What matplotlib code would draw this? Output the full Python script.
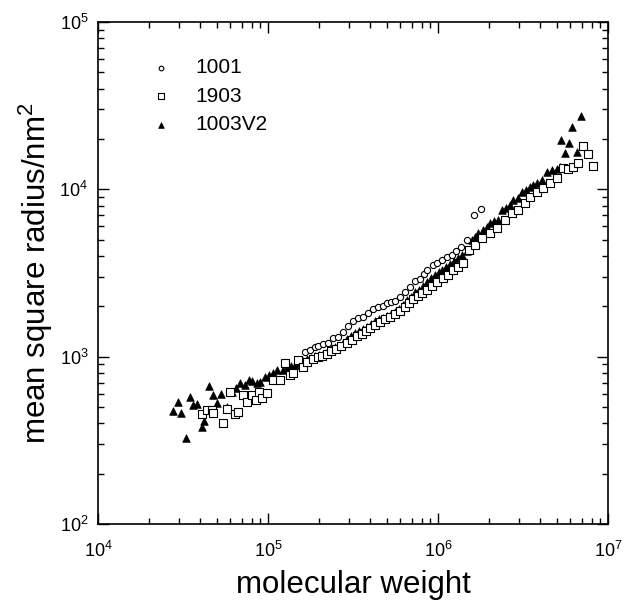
import numpy as np
import matplotlib
matplotlib.use("Agg")
import matplotlib.pyplot as plt
from matplotlib.ticker import LogLocator, FixedLocator, FixedFormatter, NullFormatter

plt.rcParams['font.family'] = ['Liberation Sans', 'DejaVu Sans']
plt.rcParams['mathtext.fontset'] = 'custom'
plt.rcParams['mathtext.rm'] = 'Liberation Sans'
plt.rcParams['mathtext.it'] = 'Liberation Sans:italic'
plt.rcParams['mathtext.default'] = 'regular'

# ---- data (log10 of molecular weight, log10 of mean square radius / nm^2) ----
logM_1001 = [5.218, 5.247, 5.276, 5.294, 5.324, 5.353, 5.382, 5.412, 5.441, 5.471,
             5.500, 5.529, 5.559, 5.588, 5.618, 5.647, 5.676, 5.700, 5.724, 5.747,
             5.776, 5.806, 5.835, 5.865, 5.894, 5.918, 5.935, 5.971, 5.994, 6.024,
             6.053, 6.082, 6.106, 6.135, 6.171, 6.212, 6.253]
logR_1001 = [3.028, 3.040, 3.058, 3.064, 3.076, 3.082, 3.112, 3.118, 3.148, 3.184,
             3.213, 3.231, 3.237, 3.261, 3.285, 3.297, 3.303, 3.321, 3.327, 3.333,
             3.357, 3.387, 3.417, 3.452, 3.464, 3.494, 3.518, 3.548, 3.560, 3.578,
             3.596, 3.608, 3.632, 3.656, 3.698, 3.847, 3.883]

logM_1903 = [4.612, 4.641, 4.671, 4.676, 4.735, 4.759, 4.776, 4.806, 4.824, 4.853,
             4.876, 4.906, 4.929, 4.947, 4.965, 4.994, 5.029, 5.071, 5.100, 5.129,
             5.147, 5.176, 5.206, 5.229, 5.265, 5.294, 5.318, 5.347, 5.371, 5.400,
             5.429, 5.465, 5.494, 5.524, 5.553, 5.576, 5.600, 5.629, 5.659, 5.688,
             5.718, 5.747, 5.776, 5.806, 5.829, 5.853, 5.882, 5.906, 5.935, 5.965,
             5.994, 6.029, 6.059, 6.088, 6.118, 6.147, 6.182, 6.218, 6.259, 6.306,
             6.347, 6.394, 6.435, 6.471, 6.512, 6.541, 6.582, 6.618, 6.659, 6.700,
             6.735, 6.765, 6.794, 6.824, 6.853, 6.882, 6.912]
logR_1903 = [2.658, 2.681, 2.681, 2.663, 2.604, 2.687, 2.789, 2.658, 2.669, 2.771,
             2.729, 2.771, 2.741, 2.789, 2.753, 2.783, 2.861, 2.861, 2.962, 2.891,
             2.903, 2.980, 2.938, 2.968, 2.986, 2.998, 3.004, 3.016, 3.034, 3.046,
             3.064, 3.082, 3.100, 3.124, 3.136, 3.154, 3.172, 3.189, 3.207, 3.225,
             3.237, 3.255, 3.273, 3.297, 3.321, 3.345, 3.363, 3.381, 3.399, 3.423,
             3.447, 3.470, 3.488, 3.518, 3.536, 3.560, 3.638, 3.668, 3.710, 3.739,
             3.769, 3.817, 3.859, 3.877, 3.919, 3.955, 3.984, 4.008, 4.038, 4.068,
             4.128, 4.122, 4.134, 4.158, 4.259, 4.212, 4.140]

logM_1003V2 = [4.441, 4.471, 4.488, 4.518, 4.541, 4.559, 4.582, 4.612, 4.624, 4.653,
               4.676, 4.700, 4.724, 4.759, 4.788, 4.812, 4.835, 4.865, 4.888, 4.906,
               4.935, 4.953, 4.982, 5.006, 5.029, 5.053, 5.088, 5.112, 5.135, 5.159,
               5.182, 5.206, 5.229, 5.253, 5.276, 5.300, 5.324, 5.347, 5.371, 5.394,
               5.418, 5.441, 5.465, 5.488, 5.512, 5.535, 5.559, 5.582, 5.606, 5.629,
               5.653, 5.676, 5.700, 5.724, 5.747, 5.771, 5.794, 5.818, 5.841, 5.865,
               5.888, 5.912, 5.935, 5.959, 5.982, 6.006, 6.024, 6.047, 6.071, 6.094,
               6.118, 6.141, 6.171, 6.200, 6.218, 6.235, 6.265, 6.288, 6.306, 6.329,
               6.353, 6.376, 6.400, 6.424, 6.441, 6.471, 6.494, 6.518, 6.541, 6.559,
               6.582, 6.612, 6.641, 6.671, 6.700, 6.718, 6.724, 6.747, 6.771, 6.788,
               6.818, 6.841]
logR_1003V2 = [2.675, 2.729, 2.663, 2.514, 2.759, 2.711, 2.717, 2.580, 2.616, 2.825,
               2.771, 2.723, 2.777, 2.699, 2.789, 2.813, 2.843, 2.831, 2.861, 2.855,
               2.843, 2.849, 2.879, 2.891, 2.903, 2.921, 2.921, 2.932, 2.944, 2.950,
               2.968, 2.974, 2.986, 2.992, 3.004, 3.010, 3.016, 3.028, 3.046, 3.058,
               3.064, 3.082, 3.106, 3.124, 3.142, 3.154, 3.166, 3.178, 3.195, 3.213,
               3.225, 3.231, 3.243, 3.255, 3.267, 3.285, 3.309, 3.339, 3.357, 3.387,
               3.399, 3.423, 3.447, 3.470, 3.488, 3.506, 3.518, 3.536, 3.554, 3.572,
               3.590, 3.608, 3.632, 3.698, 3.715, 3.739, 3.757, 3.775, 3.799, 3.811,
               3.817, 3.877, 3.889, 3.907, 3.937, 3.949, 3.984, 3.996, 4.014, 4.026,
               4.038, 4.056, 4.104, 4.116, 4.122, 4.134, 4.295, 4.218, 4.277, 4.373,
               4.223, 4.439]

series_labels = ['1001', '1903', '1003V2']
x_ticks = [1e4, 1e5, 1e6, 1e7]
x_ticklabels = ['10$^{4}$', '10$^{5}$', '10$^{6}$', '10$^{7}$']
y_ticks = [1e2, 1e3, 1e4, 1e5]
y_ticklabels = ['10$^{2}$', '10$^{3}$', '10$^{4}$', '10$^{5}$']

# ---- figure ----
fig = plt.figure(figsize=(6.30, 6.05), dpi=100)
ax = fig.add_axes([98/630, 1-524/605, 510/630, 502/605])
ax.set_xscale('log')
ax.set_yscale('log')
ax.set_xlim(1e4, 1e7)
ax.set_ylim(1e2, 1e5)

ax.scatter(10**np.array(logM_1001), 10**np.array(logR_1001), s=20, marker='o',
           facecolors='white', edgecolors='black', linewidths=0.8, zorder=5,
           label=series_labels[0])
ax.scatter(10**np.array(logM_1903), 10**np.array(logR_1903), s=28, marker='s',
           facecolors='white', edgecolors='black', linewidths=0.8, zorder=4,
           label=series_labels[1])
ax.scatter(10**np.array(logM_1003V2), 10**np.array(logR_1003V2), s=30, marker='^',
           facecolors='black', edgecolors='black', linewidths=0.5, zorder=3,
           label=series_labels[2])

ax.xaxis.set_major_locator(FixedLocator(x_ticks))
ax.xaxis.set_major_formatter(FixedFormatter(x_ticklabels))
ax.yaxis.set_major_locator(FixedLocator(y_ticks))
ax.yaxis.set_major_formatter(FixedFormatter(y_ticklabels))
ax.xaxis.set_minor_locator(LogLocator(base=10, subs=np.arange(2, 10), numticks=20))
ax.yaxis.set_minor_locator(LogLocator(base=10, subs=np.arange(2, 10), numticks=20))
ax.xaxis.set_minor_formatter(NullFormatter())
ax.yaxis.set_minor_formatter(NullFormatter())

ax.tick_params(which='both', direction='in', top=True, right=True, width=1.0)
ax.tick_params(which='major', length=8, labelsize=13)
ax.tick_params(which='minor', length=4.5)
ax.tick_params(axis='x', which='major', pad=12)
ax.tick_params(axis='y', which='major', pad=7)
for sp in ax.spines.values():
    sp.set_linewidth(1.2)

ax.set_xlabel('molecular weight', fontsize=22.5, labelpad=7)
ax.set_ylabel('mean square radius/nm$^{2}$', fontsize=22.5, labelpad=3)

leg = ax.legend(loc='upper left', bbox_to_anchor=(0.045, 0.965), frameon=False,
                fontsize=15, markerscale=0.75, handletextpad=0.65, labelspacing=0.45,
                scatterpoints=1)

fig.savefig('out.png', dpi=100)
